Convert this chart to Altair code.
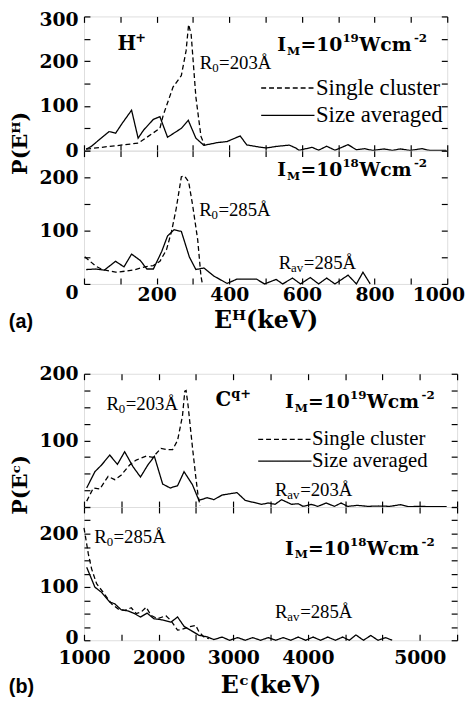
import altair as alt
import pandas as pd

# ---------------- data ----------------
SERIES = ["Single cluster", "Size averaged"]

# (a) H+, I_M = 1e19
A_TOP_SC_X = [6, 42, 87, 150, 209, 218, 245, 268, 281, 288, 295, 308, 322, 332]
A_TOP_SC_Y = [3.5, 7, 11, 17, 50, 79, 142, 168, 223, 282, 260, 120, 32, 12]
A_TOP_SA_X = [6, 20, 47, 69, 87, 105, 131, 149, 164, 191, 209, 230, 268, 287, 308, 330, 367, 394, 430, 448,
              484, 502, 529, 565, 583, 592, 628, 646, 668, 691, 727, 750, 772, 795, 826, 849, 871, 898, 930, 952, 997]
A_TOP_SA_Y = [3.5, 9.5, 28, 42.7, 39, 61, 90.5, 28, 46, 70, 76, 30, 50, 68, 28, 12, 18, 20.5, 33, 13,
              8, 6, 9.5, 12.5, 6, 1, 7.5, 1, 10, 1, 13.5, 2, 4.5, 0.5, 4, 0.5, 4, 0.5, 4.5, 0.5, 0.5]

# (a) H+, I_M = 1e18
A_BOT_SC_X = [2, 33, 51, 87, 114, 141, 168, 191, 209, 227, 241, 254, 268, 277, 288, 299, 313, 322, 326]
A_BOT_SC_Y = [51, 33, 27, 22, 24, 27, 32, 34.5, 42.5, 64, 98.5, 142, 201, 202.5, 192, 148, 83, 14.5, 0]
A_BOT_SA_X = [6, 33, 56, 87, 110, 131, 155, 173, 191, 214, 230, 248, 268, 290, 308, 330, 358, 394, 421, 475,
              497, 529, 547, 574, 596, 623, 646, 668, 691, 727, 750, 768, 788]
A_BOT_SA_Y = [27, 28, 26, 42.5, 32, 56, 44, 28, 28, 61, 90, 101.7, 98.5, 50.7, 27, 30, 14.6, 1, 9, 9,
              0, 8.5, 0, 11, 0, 12, 0, 11, 0, 16.5, 0, 22, 0]

# (b) Cq+, I_M = 1e19
B_TOP_SC_X = [1036, 1125, 1212, 1324, 1412, 1500, 1611, 1700, 1833, 1921, 2032, 2121, 2187, 2254, 2320,
              2351, 2368, 2395, 2453, 2497, 2527, 2554]
B_TOP_SC_Y = [8.8, 28.6, 27, 46, 41, 48, 63, 70.5, 76.4, 74.5, 88, 86, 86, 100, 137, 174, 175, 152, 90, 46, 18.7, 2]
B_TOP_SA_X = [1036, 1146, 1235, 1345, 1448, 1545, 1656, 1757, 1855, 1943, 2054, 2155, 2254, 2341, 2453, 2540,
              2652, 2740, 2851, 3050, 3161, 3270, 3380, 3470, 3560, 3648, 3781, 3870, 3935, 4046, 4134, 4246,
              4356, 4445, 4533, 4665, 4800, 4950, 5100, 5242, 5350, 5500, 5650, 5860]
B_TOP_SA_Y = [28.6, 53, 63, 78, 64, 83, 60.6, 45, 63, 76, 34.5, 28.6, 32, 53, 33.5, 10, 14, 11, 18, 21.6,
              10, 7, 4, 6, 4, 11, 4, 5, 1, 4, 1, 6, 1, 6, 1, 2.5, 1, 1.5, 1, 3.5, 0.5, 1, 0.5, 0.5]

# (b) Cq+, I_M = 1e18
B_BOT_SC_X = [1000, 1058, 1102, 1169, 1257, 1368, 1456, 1545, 1633, 1700, 1766, 1833, 1899, 1988, 2098,
              2165, 2254, 2300, 2408, 2497, 2541, 2607, 2673]
B_BOT_SC_Y = [211, 162, 134, 106, 90, 68.5, 59, 56, 61, 50, 53, 62, 46.6, 40.5, 46, 37, 19, 20, 25, 28,
              15.6, 6.3, 3]
B_BOT_SA_X = [1036, 1146, 1235, 1345, 1412, 1500, 1590, 1677, 1757, 1846, 1935, 2032, 2165, 2254, 2341,
              2430, 2541, 2652, 2740, 2851, 2950, 3060, 3160, 3260, 3365, 3470, 3570, 3670, 3770, 3870,
              3970, 4070, 4170, 4267, 4370, 4466, 4555, 4644, 4745, 4843, 4940, 5042, 5130]
B_BOT_SA_Y = [137, 99.6, 90, 71.6, 68.5, 57, 55, 50, 43.6, 51, 40.5, 38.6, 34, 43.6, 26, 18.7, 9.3, 6.3,
              1.3, 6, 0, 5, 0, 5, 0, 5, 0, 5, 0, 6, 0, 6, 0, 6, 0, 6, 0, 10, 0, 9, 0, 5, 0]

# annotation anchors (data units)
A_TOP_ION = (92, 238)
A_TOP_IM = (532, 236)
A_TOP_R0 = (319, 195)
A_BOT_IM = (532, 214)
A_BOT_R0 = (317, 138)
A_BOT_RAV = (536, 40)
B_TOP_R0 = (1301, 155)
B_TOP_ION = (2762, 160)
B_TOP_IM = (3692, 158)
B_TOP_RAV = (3559, 25)
B_BOT_R0 = (1138, 193)
B_BOT_IM = (3692, 172)
B_BOT_RAV = (3559, 53.5)

A_X_TICKS = list(range(0, 1001, 100))
B_X_TICKS = list(range(1000, 6001, 500))

# ---------------- styling ----------------
DASH = [[5, 3], [1, 0]]
BOLD = "DejaVu Serif"
REG = "Liberation Serif"
A_W, B_W = 368, 378
LEG_PATH = "M-3,0H3"   # wide stroke symbol for the legend
LEG_SIZE = 324         # sqrt(324)*3 = 54 px long line


def series_df(sx, sy, ax, ay):
    return pd.DataFrame({"x": sx + ax, "y": sy + ay,
                         "series": [SERIES[0]] * len(sx) + [SERIES[1]] * len(ax)})


def common_axis(**kw):
    base = dict(offset=-6, tickSize=6, tickWidth=1.2, tickColor="black", domain=False, grid=False,
                labelFont=BOLD, labelFontWeight="bold", labelFontSize=19, labelColor="black",
                labelOverlap=False, labelFlush=False, format="d")
    base.update(kw)
    return alt.Axis(**base)


def y_left(values, label_expr, title=None, title_y=None, label_offset=None):
    kw = dict(orient="left", values=values, labelExpr=label_expr, labelPadding=6)
    if title:
        kw.update(title=title, titleFont=BOLD, titleFontWeight="bold", titleFontSize=21,
                  titleColor="black", titlePadding=9, titleY=title_y)
    else:
        kw.update(title=None)
    if label_offset is not None:
        kw.update(labelOffset=label_offset)
    return common_axis(**kw)


def x_bottom(values, label_expr=None, title=None, pad=2, title_pad=5, label_offset=None):
    kw = dict(orient="bottom", values=values)
    if label_expr is None:
        kw.update(labels=False, title=None)
    else:
        kw.update(labelExpr=label_expr, labelPadding=pad, title=title, titleFont=BOLD,
                  titleFontWeight="bold", titleFontSize=24, titleColor="black", titlePadding=title_pad)
        if label_offset is not None:
            kw.update(labelOffset=label_offset)
    return common_axis(**kw)


def x_top(values):
    return common_axis(orient="top", values=values, labels=False, title=None)


def y_right(values):
    return common_axis(orient="right", values=values, labels=False, title=None)


def piece(sx, sy, pos, s, font, size, weight="normal", dx=0, dy=0):
    df = pd.DataFrame({"x": [pos[0]], "y": [pos[1]], "t": [s]})
    return alt.Chart(df).mark_text(align="left", baseline="middle", dx=dx, dy=dy, font=font,
                                   fontSize=size, fontWeight=weight, color="black").encode(
        x=alt.X("x:Q", scale=sx, axis=None), y=alt.Y("y:Q", scale=sy, axis=None), text="t:N")


def im_label(sx, sy, pos, exp):
    return [piece(sx, sy, pos, "I", BOLD, 19, "bold"),
            piece(sx, sy, pos, "M", BOLD, 12, "bold", dx=10, dy=6),
            piece(sx, sy, pos, "=10", BOLD, 19, "bold", dx=23.5),
            piece(sx, sy, pos, exp, BOLD, 12, "bold", dx=66, dy=-7),
            piece(sx, sy, pos, "Wcm", BOLD, 19, "bold", dx=83),
            piece(sx, sy, pos, "-2", BOLD, 12, "bold", dx=138.5, dy=-7)]


def r_label(sx, sy, pos, sub, rest, sub_w):
    return [piece(sx, sy, pos, "R", REG, 19),
            piece(sx, sy, pos, sub, REG, 13, dx=12.5, dy=5),
            piece(sx, sy, pos, rest, REG, 19, dx=12.5 + sub_w)]


def ion_label(sx, sy, pos, base, sup, w):
    return [piece(sx, sy, pos, base, BOLD, 20, "bold"),
            piece(sx, sy, pos, sup, BOLD, 13, "bold", dx=w, dy=-6)]


def legend(lx, ly, row_pad, font_size):
    return alt.Legend(orient="none", legendX=lx, legendY=ly, title=None, symbolType=LEG_PATH,
                      symbolSize=LEG_SIZE, symbolStrokeWidth=1.3, symbolStrokeColor="black",
                      symbolFillColor="transparent",
                      labelFont=REG, labelFontSize=font_size, labelColor="black", labelOffset=17,
                      rowPadding=row_pad, padding=0, labelLimit=0)


def panel(df, xdom, ydom, xticks, yticks, w, h, xaxis, yaxis, leg, notes_fn):
    sx = alt.Scale(domain=xdom, nice=False, zero=False)
    sy = alt.Scale(domain=ydom, nice=False, zero=False)
    lines = alt.Chart(df).mark_line(color="black", strokeWidth=1.3).encode(
        x=alt.X("x:Q", scale=sx, axis=xaxis),
        y=alt.Y("y:Q", scale=sy, axis=yaxis),
        strokeDash=alt.StrokeDash("series:N", scale=alt.Scale(domain=SERIES, range=DASH), legend=leg),
    )
    frame = alt.Chart(df).mark_point(opacity=0).encode(
        x=alt.X("x:Q", scale=sx, axis=x_top(xticks)),
        y=alt.Y("y:Q", scale=sy, axis=y_right(yticks)),
    )
    return alt.layer(lines, frame, *notes_fn(sx, sy)).resolve_axis(
        x="independent", y="independent").properties(width=w, height=h)


# ---------------- (a) ----------------
a_top = panel(
    series_df(A_TOP_SC_X, A_TOP_SC_Y, A_TOP_SA_X, A_TOP_SA_Y), [0, 1000], [0, 300], A_X_TICKS,
    list(range(0, 301, 50)), A_W, 136,
    x_bottom(A_X_TICKS),
    y_left(list(range(0, 301, 50)), "datum.value % 100 == 0 ? datum.label : ''", "P(Eᴴ)", 128,
           {"condition": {"test": "datum.value == 300", "value": 3.5}, "value": 0}),
    legend(195, 61, 3.7, 23),
    lambda sx, sy: ion_label(sx, sy, A_TOP_ION, "H", "+", 18)
    + im_label(sx, sy, A_TOP_IM, "19")
    + r_label(sx, sy, A_TOP_R0, "0", "=203Å", 7),
)

a_bot = panel(
    series_df(A_BOT_SC_X, A_BOT_SC_Y, A_BOT_SA_X, A_BOT_SA_Y), [0, 1000], [0, 250], A_X_TICKS,
    list(range(0, 251, 50)), A_W, 135,
    x_bottom(A_X_TICKS, "datum.value % 200 == 0 && datum.value > 0 ? datum.label : ''", "Eᴴ(keV)",
             pad=2, title_pad=4,
             label_offset={"condition": {"test": "datum.value == 1000", "value": -9}, "value": 0}),
    y_left(list(range(0, 251, 50)), "datum.value % 100 == 0 ? datum.label : ''", None, None,
           {"condition": {"test": "datum.value == 0", "value": 9}, "value": 0}),
    None,
    lambda sx, sy: im_label(sx, sy, A_BOT_IM, "18")
    + r_label(sx, sy, A_BOT_R0, "0", "=285Å", 7)
    + r_label(sx, sy, A_BOT_RAV, "av", "=285Å", 13),
)

# ---------------- (b) ----------------
B_LABELS = ("datum.value == 1000 ? '1000' : datum.value == 2000 ? '2000' : datum.value == 3000 ? '3000' : "
            "datum.value == 4000 ? '4000' : datum.value == 5500 ? '5000' : ''")

b_top = panel(
    series_df(B_TOP_SC_X, B_TOP_SC_Y, B_TOP_SA_X, B_TOP_SA_Y), [1000, 6000], [0, 200], B_X_TICKS,
    list(range(0, 201, 25)), B_W, 135,
    x_bottom(B_X_TICKS),
    y_left(list(range(0, 201, 25)), "datum.value == 100 || datum.value == 200 ? datum.label : ''",
           "P(Eᶜ)", 112),
    legend(193, 56, 0, 21),
    lambda sx, sy: r_label(sx, sy, B_TOP_R0, "0", "=203Å", 7)
    + ion_label(sx, sy, B_TOP_ION, "C", "q+", 16)
    + im_label(sx, sy, B_TOP_IM, "19")
    + r_label(sx, sy, B_TOP_RAV, "av", "=203Å", 13),
)

b_bot = panel(
    series_df(B_BOT_SC_X, B_BOT_SC_Y, B_BOT_SA_X, B_BOT_SA_Y), [1000, 6000], [0, 250], B_X_TICKS,
    list(range(0, 251, 25)), B_W, 135,
    x_bottom(B_X_TICKS, B_LABELS, "Eᶜ(keV)", pad=9, title_pad=6),
    y_left(list(range(0, 251, 25)), "datum.value % 100 == 0 ? datum.label : ''", None, None,
           {"condition": {"test": "datum.value == 0", "value": -3}, "value": 0}),
    None,
    lambda sx, sy: r_label(sx, sy, B_BOT_R0, "0", "=285Å", 7)
    + im_label(sx, sy, B_BOT_IM, "18")
    + r_label(sx, sy, B_BOT_RAV, "av", "=285Å", 13),
)


def tag(text):
    return alt.TitleParams(text, orient="bottom", anchor="start", font="Liberation Sans", fontSize=20,
                           fontWeight="bold", color="black", offset=-21)


group_a = alt.vconcat(a_top, a_bot, spacing=0, bounds="flush").resolve_scale(
    strokeDash="independent").properties(title=tag("(a)"))
group_b = alt.vconcat(b_top, b_bot, spacing=0, bounds="flush").resolve_scale(
    strokeDash="independent").properties(title=tag("(b)"))

chart = alt.vconcat(group_a, group_b, spacing=31).resolve_scale(
    strokeDash="independent").properties(
    padding={"left": 0, "top": -2, "right": 0, "bottom": 0}
).configure_view(stroke="black", strokeWidth=1.2).configure(background="white")

chart.save("out.html", embed_options={"renderer": "svg", "actions": False})
